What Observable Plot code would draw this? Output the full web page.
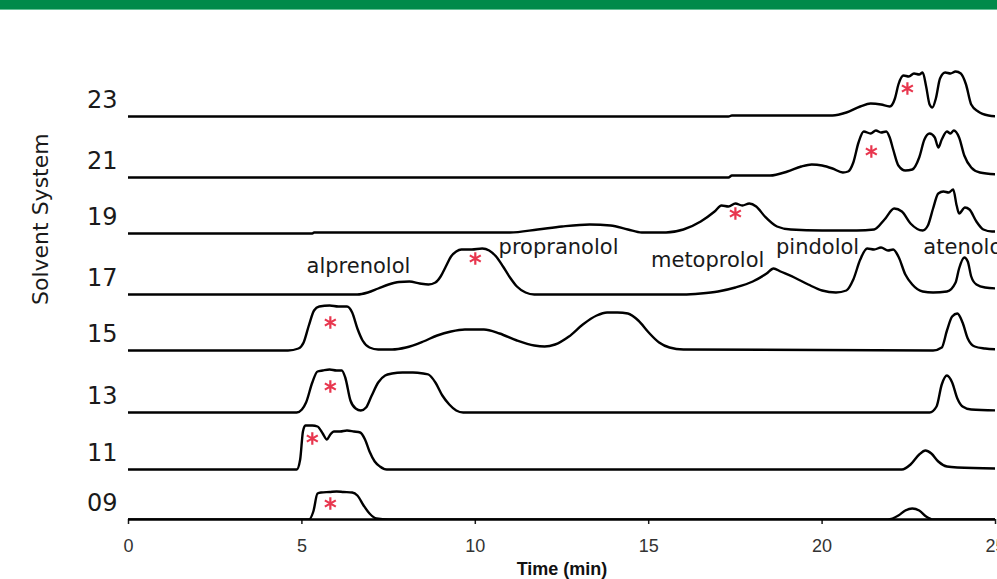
<!DOCTYPE html>
<html><head><meta charset="utf-8">
<script src="https://cdn.jsdelivr.net/npm/d3@7"></script>
<script src="https://cdn.jsdelivr.net/npm/@observablehq/plot@0.6"></script>
<style>
body{margin:0;background:#fff;width:997px;height:579px;overflow:hidden}
#bar{height:9px;background:#008a4a;border-bottom:1px solid #66c096}
#chart svg{display:block}
</style></head><body><div id="bar"></div><div id="chart"></div>
<script>
// Solvent systems (bottom to top) and their stacking offsets (signal units)
const systems = ["09","11","13","15","17","19","21","23"];
const offsets = [0, 50, 107, 169, 225, 286, 342, 403];

// Chromatogram traces: [time (min), signal above own baseline]
const s09 = [[0,0],[5.2,0],[5.33,8],[5.45,26],[5.55,27],[5.8,27.5],[6.0,28],[6.2,27.5],[6.45,27],[6.6,24],[6.78,14],[6.95,6],[7.15,1],[7.5,0],[21.9,0],[22.2,4],[22.4,9],[22.6,11],[22.8,9],[23.0,3],[23.2,0],[25.1,0]];
const s11 = [[0,0],[4.85,0],[4.95,10],[5.03,38],[5.1,44],[5.3,44],[5.45,43],[5.6,36],[5.72,30],[5.82,35],[5.92,38],[6.1,38],[6.3,39],[6.5,38],[6.68,37],[6.82,30],[6.95,18],[7.1,8],[7.25,3],[7.45,0],[22.3,0],[22.55,5],[22.8,15],[22.98,19],[23.15,16],[23.35,8],[23.6,3],[23.9,2],[25.1,1]];
const s13 = [[0,0],[4.85,0],[5.0,3],[5.12,10],[5.3,30],[5.45,41],[5.6,42],[5.8,43],[6.0,42],[6.15,42],[6.25,35],[6.4,12],[6.55,4],[6.7,2],[6.85,5],[7.0,16],[7.2,30],[7.4,37],[7.6,39],[7.9,40],[8.2,40],[8.5,39],[8.65,38],[8.85,30],[9.05,17],[9.25,8],[9.45,2],[9.65,0],[23.1,0],[23.3,6],[23.45,28],[23.6,37],[23.75,30],[23.9,14],[24.05,6],[24.3,3],[25.1,2]];
const s15 = [[0,0],[4.6,0],[4.9,2],[5.05,8],[5.2,25],[5.35,40],[5.5,44],[5.8,45],[6.05,44],[6.3,44],[6.45,38],[6.6,22],[6.75,10],[6.95,3],[7.2,1],[7.6,1],[8.0,3],[8.5,9],[8.9,15],[9.3,19],[9.7,21],[10.25,21],[10.7,17],[11.2,10],[11.7,5],[12.0,4],[12.3,6],[12.7,14],[13.1,26],[13.5,35],[13.8,38],[14.1,38],[14.4,37],[14.7,30],[15.0,18],[15.3,8],[15.6,3],[16.0,1],[23.2,0],[23.45,3],[23.6,20],[23.75,34],[23.9,37],[24.05,28],[24.2,12],[24.4,4],[24.7,2],[25.1,1]];
const s17 = [[0,0],[6.6,0],[6.9,2],[7.2,6],[7.5,10],[7.8,12.5],[8.1,13],[8.4,11],[8.65,10],[8.85,12],[9.0,18],[9.15,28],[9.3,38],[9.45,43],[9.6,45],[9.9,45],[10.2,46],[10.4,44],[10.6,38],[10.8,28],[11.0,17],[11.2,8],[11.45,2],[11.7,0],[16.0,0],[16.5,1],[17.0,3],[17.5,7],[18.0,13],[18.4,21],[18.6,26],[18.8,23],[19.2,17],[19.6,10],[20.0,4],[20.4,2],[20.7,4],[20.9,15],[21.1,35],[21.3,46],[21.5,45],[21.7,47],[21.9,44],[22.05,45],[22.2,38],[22.4,20],[22.6,10],[22.9,3],[23.2,2],[23.6,3],[23.85,12],[23.95,26],[24.1,37],[24.2,33],[24.3,18],[24.45,10],[24.7,7],[25.1,6]];
const s19 = [[0,0],[5.3,0],[5.35,1],[11.0,1],[11.8,4],[12.5,7],[13.3,9],[13.9,8],[14.4,4],[14.8,1],[15.5,1],[16.0,4],[16.5,12],[16.9,22],[17.1,28],[17.3,27],[17.5,30],[17.7,28],[17.9,30],[18.1,27],[18.35,17],[18.7,7],[19.1,4],[20.0,3],[21.0,3],[21.5,4],[21.8,14],[22.08,25],[22.3,22],[22.55,10],[22.9,3],[23.05,8],[23.2,25],[23.35,40],[23.5,42],[23.65,41],[23.78,44],[23.88,28],[23.95,20],[24.12,26],[24.25,24],[24.45,12],[24.65,4],[24.9,2],[25.1,2]];
const s21 = [[0,0],[17.3,0],[17.4,2],[18.5,2],[19.0,6],[19.4,11],[19.7,13],[20.0,12],[20.3,9],[20.6,5],[20.75,6],[20.9,15],[21.05,35],[21.2,46],[21.4,44],[21.55,47],[21.7,45],[21.85,46],[21.95,40],[22.05,28],[22.2,12],[22.4,7],[22.6,8],[22.8,20],[22.95,38],[23.1,44],[23.25,40],[23.35,30],[23.45,38],[23.6,46],[23.7,44],[23.8,47],[23.95,40],[24.1,22],[24.3,10],[24.55,5],[25.1,3]];
const s23 = [[0,0],[17.3,0],[17.4,1],[20.3,1],[20.7,4],[21.1,10],[21.4,13],[21.7,12],[21.95,10],[22.1,18],[22.2,32],[22.35,41],[22.5,40],[22.65,43],[22.8,42],[22.9,44],[23.0,30],[23.1,12],[23.18,9],[23.28,18],[23.4,38],[23.55,44],[23.7,43],[23.85,45],[24.0,43],[24.15,32],[24.3,12],[24.5,5],[24.8,1],[25.1,0]];
const traces = [s09, s11, s13, s15, s17, s19, s21, s23];

// Red asterisks marking the target peak in each system
const starT = [5.82, 5.3, 5.82, 5.82, 10.0, 17.5, 21.42, 22.46];
const starH = [16, 31, 26, 28, 36, 20, 26, 28];

// Compound annotations
const compounds = ["alprenolol","propranolol","metoprolol","pindolol","atenolol"];
const compT = [6.63, 12.4, 16.7, 19.87, 22.92];
const compY = [253, 272, 259, 272, 272];
const compAnchor = ["middle","middle","middle","middle","start"];

const xTicks = [0, 5, 10, 15, 20, 25];

const traceRows = traces.flatMap((tr, i) => tr.map(([t, h]) => ({system: systems[i], t, y: offsets[i] + h})));
const starRows = systems.map((s, i) => ({t: starT[i], y: offsets[i] + starH[i]}));
const compRows = compounds.map((c, i) => ({name: c, t: compT[i], y: compY[i], anchor: compAnchor[i]}));
const labelPos = offsets.map(o => o + 16);
const labelMap = new Map(labelPos.map((p, i) => [p, systems[i]]));

const chart = Plot.plot({
  width: 997, height: 569,
  marginLeft: 128, marginRight: 2, marginTop: 0, marginBottom: 60,
  x: {domain: [0, 25]},
  y: {domain: [0, 509]},
  style: {background: "white", fontFamily: "'DejaVu Sans', sans-serif", color: "#1a1a1a", overflow: "visible"},
  marks: [
    Plot.axisX({ticks: xTicks, tickSize: 5, tickPadding: 15, fontSize: 18, fontFamily: "'Liberation Sans Narrow', 'Arial Narrow', sans-serif", label: null, strokeWidth: 1.5, fill: "#333"}),
    Plot.axisY({ticks: labelPos, tickFormat: d => labelMap.get(d), tickSize: 0, tickPadding: 11, fontSize: 24, label: null, fill: "#1a1a1a"}),
    Plot.ruleY([0], {stroke: "black", strokeWidth: 2.4}),
    Plot.line(traceRows, {x: "t", y: "y", z: "system", curve: "monotone-x", stroke: "black", strokeWidth: 2.4, clip: true}),
    Plot.dot(starRows, {x: "t", y: "y", symbol: "asterisk", r: 6, stroke: "#e8364e", strokeWidth: 2.2}),
    Plot.text(compRows.filter(d => d.anchor === "middle"), {x: "t", y: "y", text: "name", fontSize: 21, fill: "#1a1a1a"}),
    Plot.text(compRows.filter(d => d.anchor === "start"), {x: "t", y: "y", text: "name", fontSize: 21, textAnchor: "start", fill: "#1a1a1a"}),
    Plot.text(["Solvent System"], {frameAnchor: "left", dx: -88, dy: 40, rotate: -90, fontSize: 22, fill: "#1a1a1a"}),
    Plot.text(["Time (min)"], {frameAnchor: "bottom", dy: 55, fontSize: 18, fontWeight: "bold", fontFamily: "'Liberation Sans Narrow', 'Arial Narrow', sans-serif", fill: "#111"})
  ]
});
document.getElementById("chart").append(chart);
</script></body></html>
